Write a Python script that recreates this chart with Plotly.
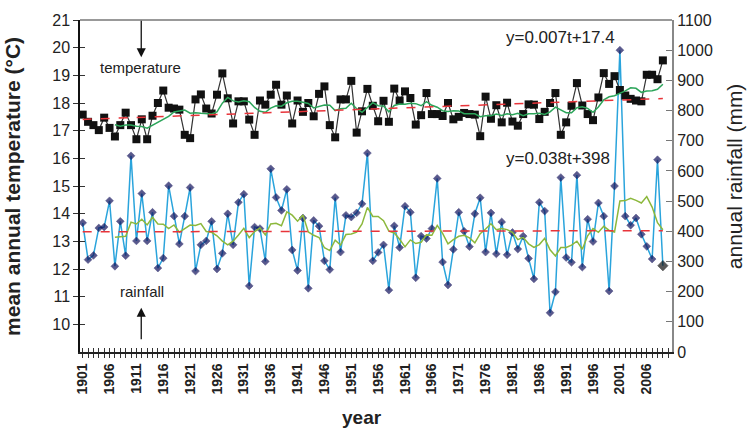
import plotly.graph_objects as go
import pandas as pd

# ---------------- data ----------------
years = list(range(1901, 2010))

temperature = [
    17.58, 17.32, 17.20, 17.02, 17.47, 17.10, 16.79, 17.20, 17.65, 17.20,
    16.69, 17.41, 16.69, 17.54, 18.00, 18.45, 17.83, 17.80, 17.76, 16.85,
    16.73, 18.13, 18.31, 17.80, 17.62, 18.30, 19.07, 18.17, 17.26, 18.06,
    18.06, 17.40, 16.85, 18.09, 17.94, 18.30, 18.66, 17.94, 18.27, 17.26,
    18.09, 17.68, 18.00, 17.52, 18.33, 18.60, 17.20, 16.76, 18.13, 18.13,
    18.80, 16.93, 17.70, 18.51, 17.90, 17.34, 18.08, 17.32, 18.52, 18.09,
    18.42, 18.18, 17.22, 17.56, 18.36, 17.60, 17.60, 17.53, 18.00, 17.41,
    17.50, 17.64, 17.60, 17.58, 16.80, 18.23, 17.43, 17.92, 17.30, 18.01,
    17.33, 17.18, 17.60, 17.95, 17.94, 17.42, 17.68, 18.00, 18.36, 16.85,
    17.30, 17.90, 18.72, 17.91, 17.60, 17.38, 18.20, 19.08, 18.69, 18.97,
    18.47, 18.27, 18.15, 18.09, 18.06, 19.02, 19.02, 18.86, 19.54,
]

rainfall = [
    428, 306, 320, 411, 414, 501, 284, 433, 319, 650,
    368, 525, 368, 463, 278, 311, 551, 450, 358, 450,
    545, 268, 355, 368, 433, 275, 327, 458, 355, 496,
    523, 219, 414, 409, 300, 607, 512, 469, 539, 338,
    270, 444, 211, 436, 417, 302, 273, 512, 331, 453,
    447, 461, 491, 659, 302, 330, 355, 205, 418, 346,
    483, 463, 246, 384, 376, 409, 575, 298, 222, 340,
    463, 400, 349, 458, 511, 331, 461, 325, 431, 322,
    396, 341, 384, 310, 242, 496, 467, 130, 199, 578,
    313, 297, 586, 281, 440, 366, 494, 450, 202, 550,
    1000, 450, 420, 444, 390, 350, 308, 637, 286,
]

tick_years = list(range(1901, 2007, 5))
temp_ticks = list(range(10, 22))
rain_ticks = list(range(0, 1101, 100))

temp_slope, temp_intercept = 0.007, 17.4
rain_slope, rain_intercept = 0.038, 398
ma_window = 7

# ---------------- derived series ----------------
temp_ma = pd.Series(temperature).rolling(ma_window).mean()
rain_ma = pd.Series(rainfall).rolling(ma_window).mean()
t_index = [y - 1900 for y in years]
temp_trend = [temp_slope * t + temp_intercept for t in t_index]
rain_trend = [rain_slope * t + rain_intercept for t in t_index]

FONT = "Arial, Liberation Sans, sans-serif"

rain_marker_colors = ["#12125c"] * (len(rainfall) - 1) + ["#111111"]
rain_marker_sizes = [6] * (len(rainfall) - 1) + [8]

fig = go.Figure()

# rainfall (right axis)
fig.add_trace(go.Scatter(
    x=years, y=rainfall, yaxis="y2", mode="lines+markers",
    line=dict(color="#2aa4dc", width=1.5),
    marker=dict(symbol="diamond", size=rain_marker_sizes, color=rain_marker_colors,
                line=dict(color=rain_marker_colors, width=0.6)),
    showlegend=False))
fig.add_trace(go.Scatter(
    x=years, y=rain_ma, yaxis="y2", mode="lines",
    line=dict(color="#8cb83c", width=1.5), showlegend=False))
fig.add_trace(go.Scatter(
    x=years, y=rain_trend, yaxis="y2", mode="lines",
    line=dict(color="#e8343a", width=1.5, dash="dash"), showlegend=False))

# temperature (left axis)
fig.add_trace(go.Scatter(
    x=years, y=temperature, yaxis="y3", mode="lines+markers",
    line=dict(color="#333333", width=1.2),
    marker=dict(symbol="square", size=8, color="#111111"),
    showlegend=False))
fig.add_trace(go.Scatter(
    x=years, y=temp_ma, yaxis="y3", mode="lines",
    line=dict(color="#2ca55a", width=1.5), showlegend=False))
fig.add_trace(go.Scatter(
    x=years, y=temp_trend, yaxis="y3", mode="lines",
    line=dict(color="#e8343a", width=1.5, dash="dash"), showlegend=False))

# invisible helpers so the base axes and the inner-tick x axis are drawn
fig.add_trace(go.Scatter(x=[years[0]], y=[temp_ticks[0]], yaxis="y",
                         mode="markers", marker=dict(opacity=0),
                         hoverinfo="skip", showlegend=False))
fig.add_trace(go.Scatter(x=[years[0]], y=[temp_ticks[0]], xaxis="x2", yaxis="y",
                         mode="markers", marker=dict(opacity=0),
                         hoverinfo="skip", showlegend=False))

fig.update_layout(
    width=751, height=433,
    margin=dict(l=80, r=79, t=15, b=81),
    paper_bgcolor="white", plot_bgcolor="white",
    font=dict(family=FONT, color="#222222", size=16),
    xaxis=dict(
        range=[1900.5, 2010.7], showgrid=False, zeroline=False,
        tickvals=tick_years, ticktext=[str(y) for y in tick_years],
        tickangle=-90, tickfont=dict(size=14, weight="bold", color="#222222"),
        ticks="outside", ticklen=4, tickcolor="#333333",
        minor=dict(dtick=1, tick0=1901, ticks="outside", ticklen=4, tickcolor="#333333"),
        showline=True, linecolor="#222222", linewidth=1.5,
    ),
    xaxis2=dict(
        range=[1900.5, 2010.7], overlaying="x", side="bottom", anchor="y",
        showgrid=False, zeroline=False, showticklabels=False, showline=False,
        tickvals=tick_years, ticks="inside", ticklen=4, tickcolor="#333333",
        minor=dict(dtick=1, tick0=1901, ticks="inside", ticklen=4, tickcolor="#333333"),
    ),
    yaxis=dict(
        range=[9, 21], tickvals=temp_ticks, showgrid=False, zeroline=False,
        ticks="outside", ticklen=5, tickcolor="#333333",
        showline=True, linecolor="#111111", linewidth=1.5,
        tickfont=dict(size=16),
    ),
    yaxis3=dict(
        range=[9, 21], overlaying="y", side="left", showgrid=False,
        zeroline=False, showticklabels=False, showline=False,
        tickvals=temp_ticks, ticks="inside", ticklen=5, tickcolor="#333333",
    ),
    yaxis2=dict(
        range=[0, 1100], tickvals=rain_ticks, overlaying="y", side="right",
        showgrid=False, zeroline=False,
        ticks="inside", ticklen=6, tickcolor="#777777",
        showline=True, linecolor="#888888", linewidth=2,
        tickfont=dict(size=16),
    ),
    shapes=[dict(type="line", xref="paper", yref="paper", x0=0, x1=1, y0=1, y1=1,
                 line=dict(color="#777777", width=1.5))],
)

annotations = [
    dict(text="mean annual temperature (°C)", xref="paper", yref="paper",
         x=-0.115, y=0.5, xanchor="center", yanchor="middle", textangle=-90,
         showarrow=False, font=dict(size=21, weight="bold", color="#222222")),
    dict(text="annual rainfall (mm)", xref="paper", yref="paper",
         x=1.105, y=0.53, xanchor="center", yanchor="middle", textangle=-90,
         showarrow=False, font=dict(size=21, color="#222222")),
    dict(text="year", xref="paper", yref="paper", x=0.477, y=-0.196,
         xanchor="center", yanchor="middle",
         showarrow=False, font=dict(size=19, weight="bold", color="#222222")),
    dict(text="temperature", xref="x", yref="y3", x=1911.8, y=19.3,
         xanchor="center", yanchor="middle",
         showarrow=False, font=dict(size=15, color="#222222")),
    dict(text="rainfall", xref="x", yref="y3", x=1912, y=11.2,
         xanchor="center", yanchor="middle",
         showarrow=False, font=dict(size=15, color="#222222")),
    dict(text="y=0.007t+17.4", xref="x", yref="y3", x=1989.9, y=20.35,
         xanchor="center", yanchor="middle",
         showarrow=False, font=dict(size=17, color="#222222")),
    dict(text="y=0.038t+398", xref="x", yref="y3", x=1989.4, y=16.0,
         xanchor="center", yanchor="middle",
         showarrow=False, font=dict(size=17, color="#222222")),
    dict(text="", xref="x", yref="y3", x=1911.9, y=19.65, ax=0, ay=-38,
         showarrow=True, arrowhead=2, arrowsize=1.4, arrowwidth=1.3,
         arrowcolor="#111111"),
    dict(text="", xref="x", yref="y3", x=1911.9, y=10.6, ax=0, ay=33,
         showarrow=True, arrowhead=2, arrowsize=1.4, arrowwidth=1.3,
         arrowcolor="#111111"),
]
fig.update_layout(annotations=annotations)

fig.write_html("out.html")
